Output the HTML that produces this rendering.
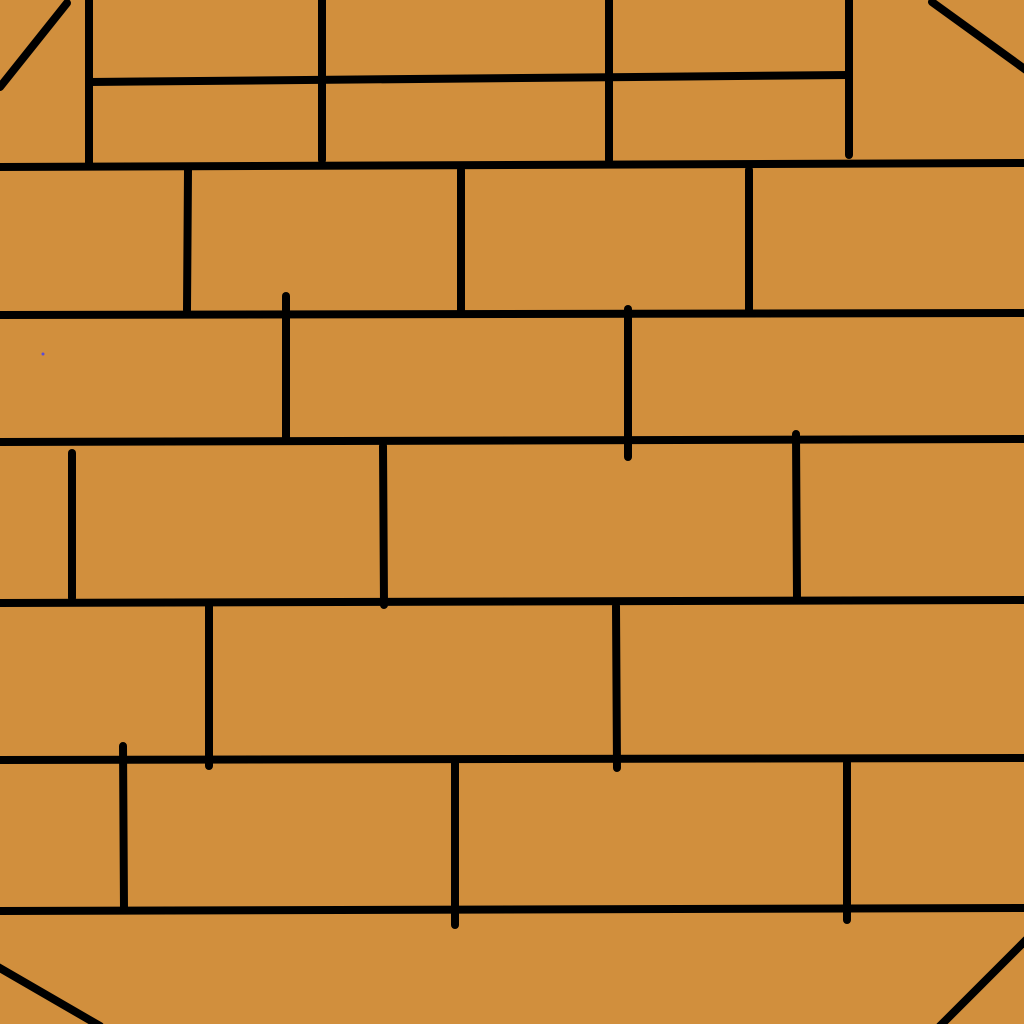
<!DOCTYPE html>
<html>
<head>
<meta charset="utf-8">
<style>
  html,body{margin:0;padding:0;background:#D18F3D;}
  svg{display:block;}
</style>
</head>
<body>
<svg width="1024" height="1024" viewBox="0 0 1024 1024" xmlns="http://www.w3.org/2000/svg">
  <rect x="0" y="0" width="1024" height="1024" fill="#D18F3D"/>
  <g stroke="#000" stroke-width="8" stroke-linecap="round" fill="none">
    <!-- horizontal mortar lines -->
    <line x1="90" y1="82" x2="848" y2="75"/>
    <line x1="0" y1="167" x2="1024" y2="163"/>
    <line x1="0" y1="315" x2="1024" y2="313"/>
    <line x1="0" y1="442" x2="1024" y2="439"/>
    <line x1="0" y1="603" x2="1024" y2="600"/>
    <line x1="0" y1="760" x2="1024" y2="758"/>
    <line x1="0" y1="911" x2="1024" y2="908"/>
    <!-- vertical joints -->
    <line x1="89" y1="0" x2="89" y2="163"/>
    <line x1="322" y1="0" x2="322" y2="160"/>
    <line x1="609" y1="0" x2="609" y2="160"/>
    <line x1="849" y1="0" x2="849" y2="155"/>
    <line x1="188" y1="170" x2="187" y2="310"/>
    <line x1="461" y1="170" x2="461" y2="310"/>
    <line x1="749" y1="170" x2="749" y2="310"/>
    <line x1="286" y1="296" x2="286" y2="438"/>
    <line x1="628" y1="309" x2="628" y2="457"/>
    <line x1="72" y1="453" x2="72" y2="598"/>
    <line x1="383" y1="446" x2="384" y2="605"/>
    <line x1="796" y1="434" x2="797" y2="598"/>
    <line x1="209" y1="606" x2="209" y2="766"/>
    <line x1="616" y1="606" x2="617" y2="768"/>
    <line x1="123" y1="746" x2="124" y2="910"/>
    <line x1="455" y1="763" x2="455" y2="925"/>
    <line x1="847" y1="763" x2="847" y2="920"/>
    <!-- corner diagonals -->
    <line x1="0" y1="87" x2="67" y2="3"/>
    <line x1="932" y1="2" x2="1026" y2="70"/>
    <line x1="-2" y1="967" x2="100" y2="1026"/>
    <line x1="940" y1="1026" x2="1026" y2="940"/>
  </g>
  <circle cx="43" cy="354" r="1.5" fill="#5a4bd6"/>
</svg>
</body>
</html>
